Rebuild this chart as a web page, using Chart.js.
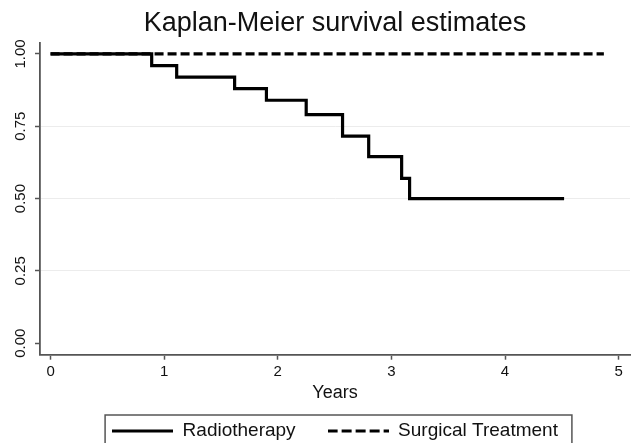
<!DOCTYPE html>
<html>
<head>
  <title>Kaplan-Meier survival estimates</title>
  <script src="https://cdn.jsdelivr.net/npm/chart.js"></script>
  <style>
    html, body { margin: 0; padding: 0; background: #fff; }
    canvas { display: block; }
  </style>
</head>
<body>
  <canvas id="km" width="632" height="443"></canvas>

  <script>
    // survival curves
    const radioYears = [0, 0.89, 1.11, 1.62, 1.90, 2.25, 2.57, 2.80, 3.09, 3.16, 4.52];
    const radioSurv  = [1, 0.96, 0.92, 0.88, 0.84, 0.79, 0.716, 0.645, 0.57, 0.50, 0.50];
    const surgYears  = [0, 4.87];
    const surgSurv   = [1, 1];

    const xTicks = [0, 1, 2, 3, 4, 5];
    const yTicks = [0, 0.25, 0.5, 0.75, 1];

    const FONT = '"Liberation Sans", Arial, sans-serif';
    const AXIS = '#555';
    const SAMPLE_W = 61;

    const toPoints = (xs, ys) => xs.map((x, i) => ({ x: x, y: ys[i] }));

    // little line images for the legend keys (pointStyle can be a canvas)
    function keyLine(dash) {
      const c = document.createElement('canvas');
      c.width = SAMPLE_W;
      c.height = 6;
      const g = c.getContext('2d');
      g.strokeStyle = '#000';
      g.lineWidth = 3.2;
      g.setLineDash(dash);
      g.beginPath();
      g.moveTo(0, 3);
      g.lineTo(SAMPLE_W, 3);
      g.stroke();
      return c;
    }

    // box around the legend, like the stata one
    const legendFrame = {
      id: 'legendFrame',
      afterDraw(chart) {
        const boxes = chart.legend.legendHitBoxes;
        if (!boxes || !boxes.length) return;
        const first = boxes[0], last = boxes[boxes.length - 1];
        const x0 = first.left - 7;
        const x1 = last.left + last.width + 14;
        const y0 = first.top + first.height / 2 - 16;
        const ctx = chart.ctx;
        ctx.save();
        ctx.strokeStyle = AXIS;
        ctx.lineWidth = 1.5;
        ctx.strokeRect(x0, y0, x1 - x0, chart.height - y0 + 10);
        ctx.restore();
      }
    };

    new Chart(document.getElementById('km'), {
      type: 'line',
      data: {
        datasets: [
          {
            label: 'Radiotherapy',
            data: toPoints(radioYears, radioSurv),
            borderColor: '#000',
            backgroundColor: 'rgba(0,0,0,0)',
            borderWidth: 3.2,
            stepped: 'before',
            pointRadius: 0,
            pointStyle: keyLine([])
          },
          {
            label: 'Surgical Treatment',
            data: toPoints(surgYears, surgSurv),
            borderColor: '#000',
            backgroundColor: 'rgba(0,0,0,0)',
            borderWidth: 3.2,
            borderDash: [9, 4],
            stepped: 'before',
            pointRadius: 0,
            pointStyle: keyLine([10, 4])
          }
        ]
      },
      options: {
        responsive: false,
        animation: false,
        devicePixelRatio: 1,
        layout: { padding: { left: 0, right: 2, top: 0, bottom: -7.5 } },
        plugins: {
          title: {
            display: true,
            fullSize: false,
            text: 'Kaplan-Meier survival estimates',
            color: '#111',
            font: { family: FONT, size: 27, weight: 'normal' },
            padding: { top: 7, bottom: 3 }
          },
          legend: {
            position: 'bottom',
            fullSize: false,
            labels: {
              usePointStyle: true,
              pointStyleWidth: SAMPLE_W,
              padding: 32,
              color: '#111',
              font: { family: FONT, size: 19 }
            }
          },
          tooltip: { enabled: false }
        },
        scales: {
          x: {
            type: 'linear',
            min: -0.093,
            max: 5.1,
            afterBuildTicks: s => { s.ticks = xTicks.map(v => ({ value: v })); },
            ticks: {
              color: '#111',
              padding: 3,
              maxRotation: 0,
              font: { family: FONT, size: 15 },
              callback: v => String(v)
            },
            grid: { drawOnChartArea: false, tickLength: 5, tickColor: AXIS, tickWidth: 1.5 },
            border: { color: AXIS, width: 1.8 },
            title: {
              display: true,
              text: 'Years',
              color: '#111',
              font: { family: FONT, size: 18 },
              padding: { top: -1, bottom: -14.8 }
            }
          },
          y: {
            type: 'linear',
            min: -0.04,
            max: 1.04,
            afterBuildTicks: s => { s.ticks = yTicks.map(v => ({ value: v })); },
            afterFit: s => { s.width = 40; },
            ticks: {
              color: '#111',
              padding: 0,
              minRotation: 90,
              maxRotation: 90,
              crossAlign: 'center',
              font: { family: FONT, size: 15 },
              callback: v => Number(v).toFixed(2)
            },
            grid: {
              color: c => (c.tick && c.tick.value > 0 && c.tick.value < 1) ? '#ececec' : 'rgba(0,0,0,0)',
              lineWidth: 1,
              tickLength: 5,
              tickColor: AXIS,
              tickWidth: 1.5
            },
            border: { color: AXIS, width: 1.8 }
          }
        }
      },
      plugins: [legendFrame]
    });
  </script>
</body>
</html>
